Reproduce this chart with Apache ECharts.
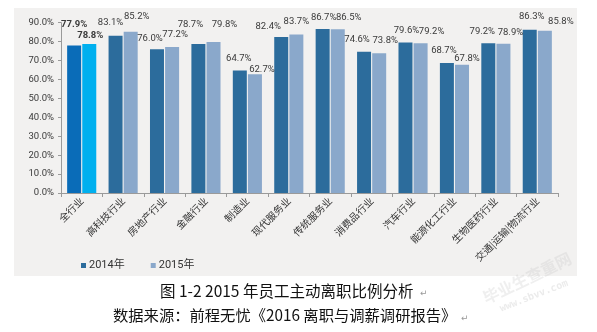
<!DOCTYPE html>
<html>
<head>
<meta charset="utf-8">
<script src="https://cdn.jsdelivr.net/npm/echarts@6/dist/echarts.min.js"></script>
<style>
html,body{margin:0;padding:0;background:#fff;}
#c{width:597px;height:332px;}
</style>
</head>
<body>
<div id="c"></div>
<script>
const categories = ['全行业','高科技行业','房地产行业','金融行业','制造业','现代服务业','传统服务业','消费品行业','汽车行业','能源化工行业','生物医药行业','交通|运输|物流行业'];
const values2014 = [77.9, 83.1, 76.0, 78.7, 64.7, 82.4, 86.7, 74.6, 79.6, 68.7, 79.2, 86.3];
const values2015 = [78.8, 85.2, 77.2, 79.8, 62.7, 83.7, 86.5, 73.8, 79.2, 67.8, 78.9, 85.8];
const seriesNames = ['2014年', '2015年'];
const yTicks = [0, 10, 20, 30, 40, 50, 60, 70, 80, 90];

// label nudges (styling only: the source chart's hand-placed data labels)
const labelNudge2014 = [[0,-16],[-5,-8],[-7,-6],[-8,-14],[-1,-7],[-13,-5],[1,-6],[-7,-7],[1,-7],[-3,-7],[-6,-7],[2,-8]];
const labelNudge2015 = [[1,-3],[6,-10],[3,-7],[11,-12],[7,0],[0,-8],[11,-7],[6,-8],[11,-7],[5,-1],[7,-6],[16,-4]];

const numFont = "Roboto,'Liberation Sans',sans-serif";
const cjkFont = "'Noto Sans CJK SC',sans-serif";
const mixFont = "Roboto,'Noto Sans CJK SC',sans-serif";

const baseColors = ['#2c6c9c', '#8aa8cb'];
const firstColors = ['#0a6cb8', '#00b0ef'];

function buildData(vals, si, nudges) {
  return vals.map((v, i) => {
    const item = { value: v, label: { offset: [nudges[i][0], nudges[i][1]] } };
    if (i === 0) {
      item.itemStyle = { color: firstColors[si] };
      item.label.fontWeight = 'bold';
    }
    return item;
  });
}

function makeSeries(vals, si, nudges) {
  return {
    name: seriesNames[si],
    type: 'bar',
    data: buildData(vals, si, nudges),
    barWidth: 14,
    barGap: '8%',
    itemStyle: { color: baseColors[si] },
    label: {
      show: true,
      position: 'top',
      distance: 0,
      color: '#3a3a3a',
      fontFamily: numFont,
      fontSize: 9.5,
      formatter: p => p.value.toFixed(1) + '%'
    }
  };
}

const chart = echarts.init(document.getElementById('c'), null, { renderer: 'canvas' });
chart.setOption({
  backgroundColor: '#ffffff',
  animation: false,
  graphic: [
    { type: 'rect', z: -10, silent: true, shape: { x: 14, y: 8, width: 563, height: 268 }, style: { fill: '#f2f1f0' } },
    { type: 'text', left: 160, top: 283, style: { text: '图 1-2 2015 年员工主动离职比例分析', font: "15.5px 'Noto Sans CJK SC'", fill: '#111' } },
    { type: 'text', left: 420, top: 289, style: { text: '↵', font: "9px 'DejaVu Sans'", fill: '#999' } },
    { type: 'text', left: 113, top: 308, style: { text: '数据来源：前程无忧《2016 离职与调薪调研报告》', font: "15.3px 'Noto Sans CJK SC'", fill: '#111' } },
    { type: 'text', left: 461, top: 314, style: { text: '↵', font: "9px 'DejaVu Sans'", fill: '#999' } },
    { type: 'text', x: 527, y: 278, rotation: 0.45, style: { text: '毕业生查重网', font: "bold 16px 'Noto Sans CJK SC'", fill: 'rgba(190,190,190,0.25)', align: 'center', verticalAlign: 'middle' } },
    { type: 'text', x: 534, y: 296, rotation: 0.37, style: { text: 'www.sbvv.com', font: "bold 10px 'DejaVu Sans Mono'", fill: 'rgba(190,190,190,0.3)', align: 'center', verticalAlign: 'middle' } }
  ],
  legend: {
    left: 76,
    top: 255,
    itemWidth: 5,
    itemHeight: 5,
    itemGap: 26,
    icon: 'rect',
    textStyle: { fontFamily: mixFont, fontSize: 11, color: '#333', padding: [0, 0, 0, -2] },
    data: seriesNames.map((n, i) => ({ name: n, itemStyle: { color: baseColors[i] } }))
  },
  grid: { left: 61, right: 39, top: 22.7, bottom: 139, containLabel: false },
  xAxis: {
    type: 'category',
    data: categories,
    axisLine: { lineStyle: { color: '#9a9a9a' } },
    axisTick: { show: true, length: 4, lineStyle: { color: '#9a9a9a' } },
    axisLabel: { rotate: 45, interval: 0, margin: 6, fontFamily: cjkFont, fontSize: 10, color: '#333' }
  },
  yAxis: {
    type: 'value',
    min: yTicks[0],
    max: yTicks[yTicks.length - 1],
    interval: yTicks[1] - yTicks[0],
    axisLine: { show: true, lineStyle: { color: '#9a9a9a' } },
    axisTick: { show: true, length: 3, lineStyle: { color: '#9a9a9a' } },
    splitLine: { show: false },
    axisLabel: { margin: 7, fontFamily: numFont, fontSize: 9.5, color: '#3a3a3a', formatter: v => v.toFixed(1) + '%' }
  },
  series: [makeSeries(values2014, 0, labelNudge2014), makeSeries(values2015, 1, labelNudge2015)]
});
</script>
</body>
</html>
